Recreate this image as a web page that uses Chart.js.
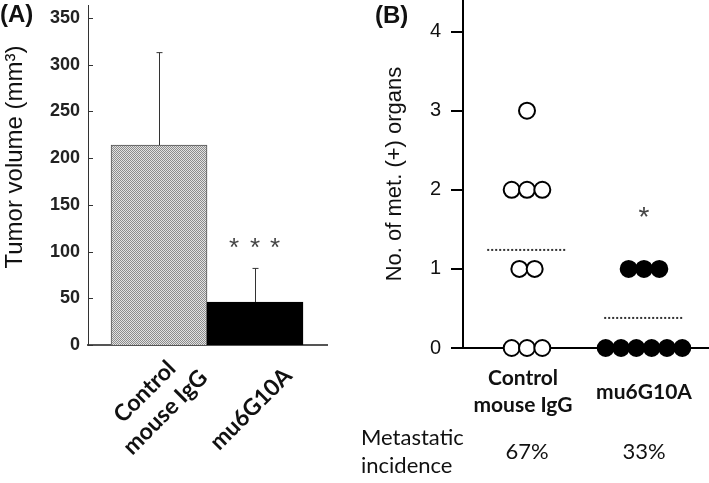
<!DOCTYPE html>
<html>
<head>
<meta charset="utf-8">
<script src="https://cdn.jsdelivr.net/npm/chart.js@4.4.1/dist/chart.umd.min.js"></script>
<style>
  html, body { margin: 0; padding: 0; background: #fff; }
  #wrap { position: relative; width: 709px; height: 483px; }
  canvas { position: absolute; top: 0; }
  #chartA { left: 0; }
  #chartB { left: 345px; }
</style>
</head>
<body>
<div id="wrap">
  <canvas id="chartA" width="345" height="483"></canvas>
  <canvas id="chartB" width="364" height="483"></canvas>
</div>
<script>
// ─── data ───────────────────────────────────────────────────────
const groupLabels = [["Control", "mouse IgG"], ["mu6G10A"]];
const tumorVolume = [214, 46];
const tumorVolumeErr = [99, 36];
const volumeTicks = [0, 50, 100, 150, 200, 250, 300, 350];

const controlOrgans = [0, 0, 0, 1, 1, 2, 2, 2, 3];
const mu6Organs = [0, 0, 0, 0, 0, 0, 1, 1, 1];
const organMeans = [1.24, 0.38];
const organTicks = [0, 1, 2, 3, 4];
const incidence = ["67%", "33%"];

// ─── layout bits ────────────────────────────────────────────────
const SANS = "'Liberation Sans', Arial, sans-serif";
const CALI = "Lato, 'Open Sans', sans-serif";
const groupX = [4.18, 11.82];      // dot plot group centres (x units)
const halfLine = 2.6;              // half width of mean line
const catLabelDrop = [57, 64];     // rotated labels, px below axis

// stack tied values side by side around a centre
function spread(values, center) {
    const counts = {};
    values.forEach(v => counts[v] = (counts[v] || 0) + 1);
    const seen = {};
    return values.map(v => {
        const k = seen[v] = (seen[v] || 0) + 1;
        return { x: center + (k - 1 - (counts[v] - 1) / 2), y: v };
    });
}

// stipple fill for the control bar
function stipple() {
    const c = document.createElement("canvas");
    c.width = 2; c.height = 2;
    const g = c.getContext("2d");
    g.fillStyle = "#e2e2e2";
    g.fillRect(0, 0, 2, 2);
    g.fillStyle = "#8c8c8c";
    g.fillRect(0, 0, 1, 1);
    g.fillRect(1, 1, 1, 1);
    return g.createPattern(c, "repeat");
}

// no extra room for half tick labels at the ends of an axis
function noEndPadding(s) {
    s.paddingTop = 0;
    s.paddingBottom = 0;
    s.paddingLeft = 0;
    s.paddingRight = 0;
}

// ─── Panel A: bars + error bars ─────────────────────────────────
const panelAExtras = {
    id: "panelAExtras",
    afterDatasetsDraw(chart) {
        const { ctx, chartArea, scales: { x, y } } = chart;
        ctx.save();
        ctx.strokeStyle = "#333";
        ctx.lineWidth = 1;

        // inner tick marks
        y.ticks.forEach(t => {
            const py = Math.round(y.getPixelForValue(t.value)) + 0.5;
            ctx.beginPath();
            ctx.moveTo(chartArea.left, py);
            ctx.lineTo(chartArea.left + 5, py);
            ctx.stroke();
        });

        // error bars (upper only)
        const meta = chart.getDatasetMeta(0);
        meta.data.forEach((bar, i) => {
            const px = Math.round(bar.x) + 0.5;
            const top = y.getPixelForValue(tumorVolume[i] + tumorVolumeErr[i]);
            ctx.beginPath();
            ctx.moveTo(px, bar.y);
            ctx.lineTo(px, top);
            ctx.moveTo(px - 3, top);
            ctx.lineTo(px + 3, top);
            ctx.stroke();
        });

        // significance stars
        const b = meta.data[1];
        const sy = y.getPixelForValue(tumorVolume[1] + tumorVolumeErr[1]) - 24;
        ctx.fillStyle = "#444";
        ctx.font = `26px ${SANS}`;
        ctx.textAlign = "center";
        ctx.textBaseline = "middle";
        [-21, 0, 20].forEach(dx => ctx.fillText("*", b.x + dx, sy + 4));

        // rotated category labels
        ctx.fillStyle = "#111";
        ctx.font = `bold 23px ${CALI}`;
        meta.data.forEach((bar, i) => {
            const lines = groupLabels[i];
            ctx.save();
            ctx.translate(bar.x - 4, chartArea.bottom + catLabelDrop[i]);
            ctx.rotate(-Math.PI / 4);
            lines.forEach((ln, j) => {
                ctx.fillText(ln, 0, (j - (lines.length - 1) / 2) * 29);
            });
            ctx.restore();
        });

        // axis title
        ctx.save();
        ctx.translate(15, 157);
        ctx.rotate(-Math.PI / 2);
        ctx.font = `24px ${SANS}`;
        ctx.fillText("Tumor volume (mm\u00B3)", 0, 0);
        ctx.restore();

        // panel tag
        ctx.font = `bold 24px ${SANS}`;
        ctx.textAlign = "left";
        ctx.fillText("(A)", 0, 15);
        ctx.restore();
    },
};

new Chart(document.getElementById("chartA"), {
    type: "bar",
    data: {
        datasets: [{
            data: tumorVolume.map((v, i) => ({ x: i, y: v })),
            backgroundColor: [stipple(), "#000"],
            borderColor: ["#555", "#000"],
            borderWidth: 1,
            barPercentage: 1,
            categoryPercentage: 1,
        }],
    },
    options: {
        responsive: false,
        animation: false,
        events: [],
        layout: { autoPadding: false, padding: { top: 5, right: 18, left: 0, bottom: 0 } },
        plugins: { legend: { display: false }, tooltip: { enabled: false } },
        scales: {
            x: {
                type: "linear",
                offset: false,
                min: -0.74,
                max: 1.75,
                afterBuildTicks: s => { s.ticks = tumorVolume.map((_, i) => ({ value: i })); },
                afterFit: s => { s.height = 138; noEndPadding(s); },
                ticks: { display: false },
                grid: { display: false, drawTicks: false, offset: false },
                border: { color: "#555", width: 2 },
            },
            y: {
                min: 0,
                max: 364,
                afterBuildTicks: s => { s.ticks = volumeTicks.map(v => ({ value: v })); },
                afterFit: s => { s.width = 88; noEndPadding(s); },
                ticks: { color: "#222", padding: 8, font: { family: SANS, size: 18, weight: "bold" } },
                grid: { display: false, drawTicks: false },
                border: { color: "#333", width: 1 },
            },
        },
    },
    plugins: [panelAExtras],
});

// ─── Panel B: dot plot ──────────────────────────────────────────
const panelBExtras = {
    id: "panelBExtras",
    afterDraw(chart) {
        const { ctx, chartArea, scales: { x, y } } = chart;
        const bottom = chartArea.bottom;
        ctx.save();
        ctx.textAlign = "center";
        ctx.textBaseline = "middle";

        // asterisk over treated group
        ctx.fillStyle = "#444";
        ctx.font = `28px ${SANS}`;
        ctx.fillText("*", x.getPixelForValue(groupX[1]), y.getPixelForValue(1.7) + 5);

        // group names
        ctx.fillStyle = "#111";
        ctx.font = `bold 21px ${CALI}`;
        groupLabels.forEach((lines, i) => {
            const gx = x.getPixelForValue(groupX[i]);
            lines.forEach((ln, j) => {
                ctx.fillText(ln, gx - (i === 0 ? 4 : 0), bottom + 44 + (j - (lines.length - 1) / 2) * 27);
            });
        });

        // metastatic incidence row
        ctx.font = `22px ${CALI}`;
        incidence.forEach((p, i) => {
            ctx.fillText(p, x.getPixelForValue(groupX[i]), bottom + 104);
        });
        ctx.textAlign = "left";
        ctx.fillText("Metastatic", chartArea.left - 102, bottom + 90);
        ctx.fillText("incidence", chartArea.left - 102, bottom + 118);

        // panel tag
        ctx.font = `bold 24px ${SANS}`;
        ctx.fillText("(B)", 30, 16);
        ctx.restore();
    },
};

const dotStyle = {
    pointRadius: 8,
    pointBorderColor: "#000",
    pointBorderWidth: 2,
    clip: false,
};
const meanStyle = {
    showLine: true,
    pointRadius: 0,
    borderColor: "#333",
    borderWidth: 2,
    borderDash: [2, 2],
    clip: false,
};

new Chart(document.getElementById("chartB"), {
    type: "scatter",
    data: {
        datasets: [
            { ...meanStyle, data: [{ x: groupX[0] - halfLine, y: organMeans[0] }, { x: groupX[0] + halfLine, y: organMeans[0] }] },
            { ...meanStyle, data: [{ x: groupX[1] - halfLine, y: organMeans[1] }, { x: groupX[1] + halfLine, y: organMeans[1] }] },
            { ...dotStyle, data: spread(controlOrgans, groupX[0]), pointBackgroundColor: "#fff" },
            { ...dotStyle, data: spread(mu6Organs, groupX[1]), pointBackgroundColor: "#000" },
        ],
    },
    options: {
        responsive: false,
        animation: false,
        events: [],
        layout: { autoPadding: false, padding: { top: 0, right: 1, left: 0, bottom: 0 } },
        plugins: { legend: { display: false }, tooltip: { enabled: false } },
        scales: {
            x: {
                type: "linear",
                min: 0,
                max: 16,
                afterFit: s => { s.height = 135; noEndPadding(s); },
                ticks: { display: false },
                grid: { display: false, drawTicks: false },
                border: { color: "#000", width: 2 },
            },
            y: {
                min: 0,
                max: 4.4,
                afterBuildTicks: s => { s.ticks = organTicks.map(v => ({ value: v })); },
                afterFit: s => { s.width = 118; noEndPadding(s); },
                ticks: { color: "#111", padding: 10, font: { family: SANS, size: 20 } },
                grid: { drawOnChartArea: false, drawTicks: true, tickLength: 12, color: "#000", lineWidth: 2 },
                border: { color: "#000", width: 2 },
                title: {
                    display: true,
                    text: "No. of met. (+) organs",
                    color: "#111",
                    font: { family: SANS, size: 22 },
                    padding: { top: 37, bottom: 0 },
                },
            },
        },
    },
    plugins: [panelBExtras],
});
</script>
</body>
</html>
